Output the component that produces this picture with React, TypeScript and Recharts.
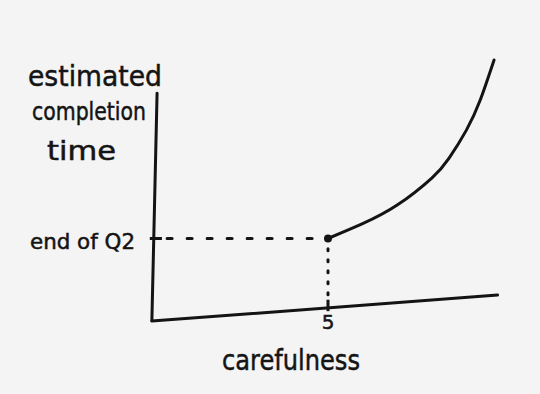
import { LineChart, Line, XAxis, YAxis, ReferenceLine, Label } from 'recharts'

// curve: completion time vs carefulness (hand-drawn)
const carefulness = [5, 6, 7, 8, 8.5, 9, 9.4, 9.8]
const completionTime = [3, 3.58, 4.31, 5.37, 6.15, 7.25, 8.43, 10]

const xTicks = [5]
const xTickLabels = ['5']
const yTicks = [3]
const yTickLabels = ['end of Q2']

const titleLines = ['estimated', 'completion', 'time']
const xTitle = 'carefulness'

const data = carefulness.map((x, i) => ({ x, y: completionTime[i] }))

const INK = '#141414'
const FONT = '"DejaVu Sans", sans-serif'
const TEXT_STROKE = { stroke: INK, strokeWidth: 0.5 }

function XTick({ x, payload }: any) {
  const i = xTicks.indexOf(payload.value)
  return (
    <text x={x} y={329} textAnchor="middle" fontSize={20} fontFamily={FONT} fill={INK} {...TEXT_STROKE}>
      {xTickLabels[i]}
    </text>
  )
}

function YTick({ y, payload }: any) {
  const i = yTicks.indexOf(payload.value)
  return (
    <text x={30} y={y + 10} fontSize={21} fontFamily={FONT} fill={INK} {...TEXT_STROKE}
      textLength={105} lengthAdjust="spacingAndGlyphs">
      {yTickLabels[i]}
    </text>
  )
}

function YTitle() {
  return (
    <g fontFamily={FONT} fill={INK} {...TEXT_STROKE}>
      <text x={28} y={86} fontSize={29} textLength={134} lengthAdjust="spacingAndGlyphs">{titleLines[0]}</text>
      <text x={32} y={120} fontSize={25} textLength={114} lengthAdjust="spacingAndGlyphs">{titleLines[1]}</text>
      <text x={47} y={160} fontSize={26} textLength={69} lengthAdjust="spacingAndGlyphs">{titleLines[2]}</text>
    </g>
  )
}

function XTitle() {
  return (
    <text x={222} y={370} fontSize={28} fontFamily={FONT} fill={INK} {...TEXT_STROKE}
      textLength={138} lengthAdjust="spacingAndGlyphs">
      {xTitle}
    </text>
  )
}

function StartDot(props: any) {
  const { cx, cy, index } = props
  if (index !== 0) return <g key={`d${index}`} />
  return <circle key={`d${index}`} cx={cx} cy={cy} r={4} fill={INK} />
}

export default function App() {
  return (
    <div style={{ position: 'absolute', left: 0, top: 0, width: 540, height: 394, background: '#f4f4f4' }}>
      <LineChart width={540} height={394} data={data} margin={{ top: 60, right: 39, bottom: 0, left: 0 }}>
        <XAxis
          type="number" dataKey="x" domain={[0, 10]} ticks={xTicks}
          axisLine={false} tickLine={false} tick={<XTick />} height={79}
        >
          <Label content={<XTitle />} />
        </XAxis>
        <YAxis
          type="number" domain={[0, 10]} ticks={yTicks}
          axisLine={false} tickLine={false} tick={<YTick />} width={155}
        >
          <Label content={<YTitle />} />
        </YAxis>

        {/* hand-drawn axes */}
        <ReferenceLine segment={[{ x: 0.06, y: 8.7 }, { x: -0.09, y: -0.22 }]} stroke={INK} strokeWidth={3} strokeLinecap="round" ifOverflow="visible" />
        <ReferenceLine segment={[{ x: -0.09, y: -0.24 }, { x: 9.9, y: 0.78 }]} stroke={INK} strokeWidth={3} strokeLinecap="round" ifOverflow="visible" />

        {/* tick marks */}
        <ReferenceLine segment={[{ x: 5, y: 0.15 }, { x: 5, y: 0.6 }]} stroke={INK} strokeWidth={3} ifOverflow="visible" />
        <ReferenceLine segment={[{ x: -0.15, y: 3 }, { x: 0.2, y: 3 }]} stroke={INK} strokeWidth={3} ifOverflow="visible" />

        {/* dotted guides */}
        <ReferenceLine segment={[{ x: 0.35, y: 3 }, { x: 4.85, y: 3 }]} stroke={INK} strokeWidth={3} strokeDasharray="5 15" strokeLinecap="round" ifOverflow="visible" />
        <ReferenceLine segment={[{ x: 5, y: 2.6 }, { x: 5, y: 0.7 }]} stroke={INK} strokeWidth={3} strokeDasharray="2 9" strokeLinecap="round" ifOverflow="visible" />

        <Line
          type="natural" dataKey="y" stroke={INK} strokeWidth={3}
          strokeLinecap="round" dot={StartDot} activeDot={false}
          isAnimationActive={false}
        />
      </LineChart>
    </div>
  )
}
